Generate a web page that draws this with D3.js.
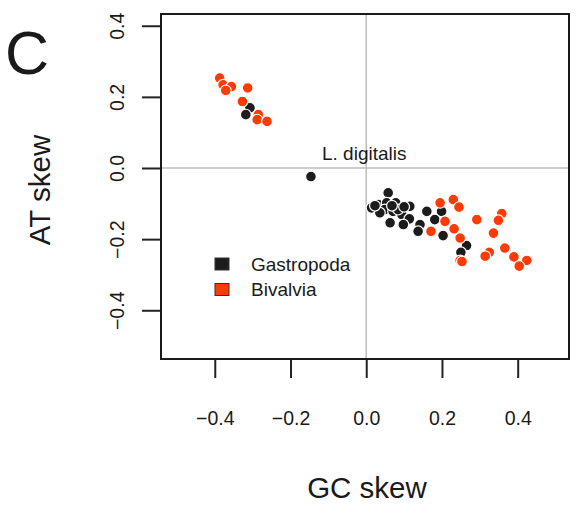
<!DOCTYPE html>
<html><head><meta charset="utf-8">
<script src="https://cdn.jsdelivr.net/npm/d3@7"></script>
<style>body{margin:0;background:#fff}svg{display:block}text{font-family:"Liberation Sans",Arial,sans-serif;fill:#1a1a1a}</style>
</head><body><svg id="c" width="580" height="508"></svg>
<script>
const xTicks = [-0.4, -0.2, 0.0, 0.2, 0.4];
const yTicks = [-0.4, -0.2, 0.0, 0.2, 0.4];
const groups = ["Gastropoda", "Bivalvia"];
const colors = ["#1c1c1c", "#ff3a05"];
const gastroX = [0.058,0.014,0.032,0.054,0.078,0.115,0.049,0.071,0.094,0.036,0.063,0.114,0.098,0.023,0.084,0.068,0.100,
  0.160,0.199,0.181,0.142,0.137,0.203,0.265,0.250,-0.146,-0.307,-0.318];
const gastroY = [-0.070,-0.112,-0.103,-0.098,-0.098,-0.108,-0.117,-0.122,-0.131,-0.126,-0.154,-0.143,-0.159,-0.106,-0.117,-0.106,-0.109,
  -0.122,-0.122,-0.145,-0.159,-0.178,-0.190,-0.218,-0.237,-0.024,0.169,0.150];
const bivX = [-0.387,-0.378,-0.356,-0.371,-0.313,-0.327,-0.285,-0.288,-0.262,
  0.195,0.230,0.245,0.208,0.171,0.232,0.248,0.248,0.253,0.292,0.358,0.349,0.336,0.366,0.325,0.314,0.390,0.424,0.404];
const bivY = [0.253,0.234,0.229,0.218,0.225,0.187,0.150,0.136,0.131,
  -0.098,-0.089,-0.110,-0.150,-0.178,-0.171,-0.197,-0.260,-0.263,-0.145,-0.128,-0.147,-0.183,-0.225,-0.237,-0.248,-0.250,-0.260,-0.276];

const svg = d3.select("#c");
const L=161, R=569, T=14, B=359;
const x = d3.scaleLinear().domain([-0.542,0.5355]).range([L,R]);
const y = d3.scaleLinear().domain([-0.537,0.433]).range([B,T]);

// reference lines
svg.append("line").attr("x1",x(0)).attr("x2",x(0)).attr("y1",T).attr("y2",B).attr("stroke","#bdbdbd").attr("stroke-width",1.5);
svg.append("line").attr("x1",L).attr("x2",R).attr("y1",y(0)).attr("y2",y(0)).attr("stroke","#bdbdbd").attr("stroke-width",1.5);

const fmt = d=>d3.format(".1f")(d).replace("-","\u2212");
// axes
const xa = svg.append("g").attr("transform",`translate(0,${B})`)
  .call(d3.axisBottom(x).tickValues(xTicks).tickSize(19).tickPadding(0).tickFormat(fmt));
xa.select(".domain").remove();
xa.selectAll("line").attr("stroke","#222").attr("stroke-width",2);
xa.selectAll("text").attr("y",66).attr("dy",0).attr("font-size",19.5).style("font-family","'Liberation Sans',Arial,sans-serif").attr("fill","#1a1a1a");

const ya = svg.append("g").attr("transform",`translate(${L},0)`)
  .call(d3.axisLeft(y).tickValues(yTicks).tickSize(19).tickFormat(fmt));
ya.select(".domain").remove();
ya.selectAll("line").attr("stroke","#222").attr("stroke-width",2);
ya.selectAll("text").attr("x",null).attr("y",null).attr("dy","0.35em")
  .attr("transform","translate(-44,0) rotate(-90)")
  .attr("text-anchor","middle").attr("font-size",19.5).style("font-family","'Liberation Sans',Arial,sans-serif").attr("fill","#1a1a1a");

svg.append("rect").attr("x",L).attr("y",T).attr("width",R-L).attr("height",B-T)
  .attr("fill","none").attr("stroke","#1a1a1a").attr("stroke-width",2);

// points
const pts = [];
gastroX.forEach((v,i)=>pts.push({x:v,y:gastroY[i],g:0}));
bivX.forEach((v,i)=>pts.push({x:v,y:bivY[i],g:1}));
svg.append("g").selectAll("circle").data(pts).join("circle")
  .attr("cx",d=>x(d.x)).attr("cy",d=>y(d.y)).attr("r",5.4)
  .attr("fill",d=>colors[d.g]).attr("stroke","#fff").attr("stroke-width",1.2);

// annotation
svg.append("text").attr("x",322).attr("y",160).attr("font-size",19).text("L. digitalis");

// legend
groups.forEach((g,i)=>{
  svg.append("rect").attr("x",215).attr("y",258+i*25.5).attr("width",14).attr("height",12)
    .attr("fill",colors[i]).attr("stroke","#333").attr("stroke-width",1);
  svg.append("text").attr("x",251).attr("y",264+i*25.5).attr("dy","0.35em").attr("font-size",19).text(g);
});

// titles
svg.append("text").attr("x",367).attr("y",498).attr("text-anchor","middle").attr("font-size",29.5).text("GC skew");
svg.append("text").attr("transform","translate(50,190) rotate(-90)").attr("text-anchor","middle").attr("font-size",29.5).text("AT skew");
svg.append("text").attr("x",5).attr("y",74).attr("font-size",61).text("C");
</script></body></html>
